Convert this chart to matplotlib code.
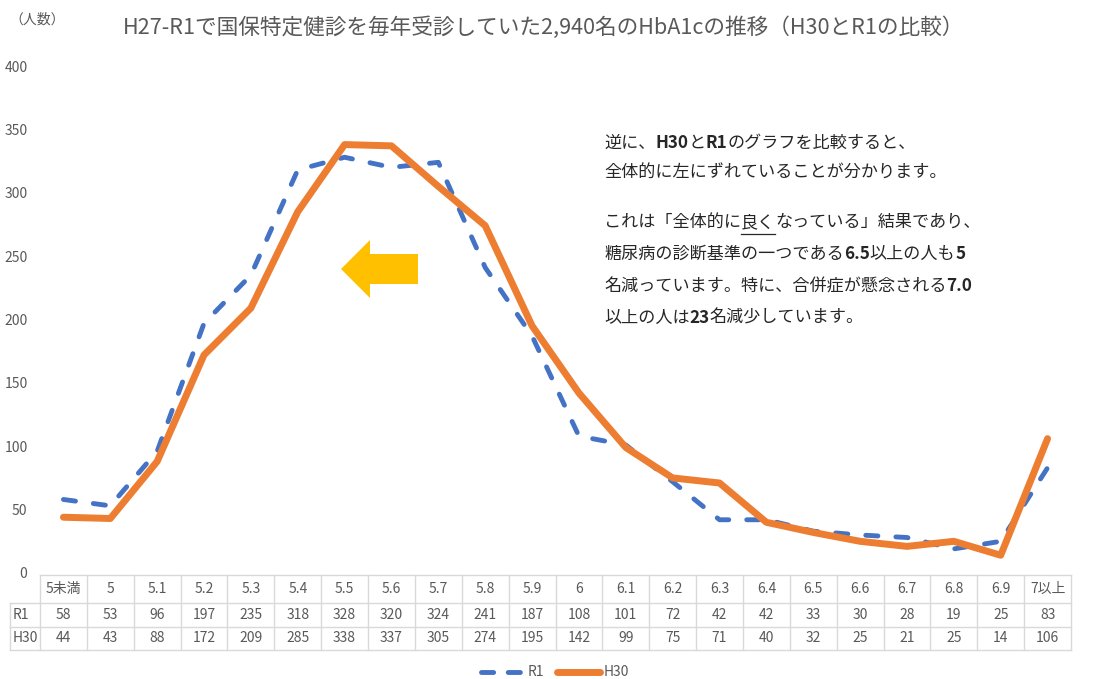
import matplotlib
matplotlib.use("Agg")
import matplotlib.pyplot as plt
from matplotlib.lines import Line2D
from matplotlib.patches import Polygon
from matplotlib.transforms import blended_transform_factory

plt.rcParams['font.family'] = ['Noto Sans CJK JP', 'DejaVu Sans']

# HbA1c categories and number of people in each year
categories = ['5未満', '5', '5.1', '5.2', '5.3', '5.4', '5.5', '5.6', '5.7', '5.8', '5.9',
              '6', '6.1', '6.2', '6.3', '6.4', '6.5', '6.6', '6.7', '6.8', '6.9', '7以上']
r1 = [58, 53, 96, 197, 235, 318, 328, 320, 324, 241, 187, 108, 101, 72, 42, 42, 33, 30, 28, 19, 25, 83]
h30 = [44, 43, 88, 172, 209, 285, 338, 337, 305, 274, 195, 142, 99, 75, 71, 40, 32, 25, 21, 25, 14, 106]
y_ticks = [0, 50, 100, 150, 200, 250, 300, 350, 400]

title = 'H27-R1で国保特定健診を毎年受診していた2,940名のHbA1cの推移（H30とR1の比較）'
y_unit = '（人数）'

W, H = 1101, 679
fig = plt.figure(figsize=(W / 100, H / 100), dpi=100)
fig.patch.set_facecolor('white')

GRAY = '#595959'
GRID = '#D9D9D9'
BLUE = '#4472C4'
ORANGE = '#ED7D31'


def fx(px):
    return px / W


def fy(py):
    return 1 - py / H


ax_l, ax_r, ax_t, ax_b = 40, 1071, 66, 573
ax = fig.add_axes([fx(ax_l), fy(ax_b), fx(ax_r - ax_l), fy(ax_t) - fy(ax_b)])
n = len(categories)
x = list(range(n))
ax.set_xlim(-0.5, n - 0.5)
ax.set_ylim(0, 400)
for s in ax.spines.values():
    s.set_visible(False)
ax.set_xticks([])
ax.set_yticks(y_ticks)
ax.tick_params(axis='y', length=0, pad=9, labelsize=10, labelcolor=GRAY)

ax.plot(x, r1, color=BLUE, lw=3.5, linestyle=(0, (2.5, 3.7)),
        dash_capstyle='round', solid_joinstyle='round', zorder=3, clip_on=False)
ax.plot(x, h30, color=ORANGE, lw=5, solid_capstyle='round',
        solid_joinstyle='round', zorder=4, clip_on=False)

# data table under the plot
bt = blended_transform_factory(ax.transData, fig.transFigure)
row_top, row1, row2, row_bot = 575, 603, 627, 650
hdr_l = 10
line_kw = dict(color=GRID, lw=1.0, clip_on=False)
for i in range(n + 1):
    xi = i - 0.5
    fig.add_artist(Line2D([xi, xi], [fy(row_top), fy(row_bot)], transform=bt, **line_kw))
fig.add_artist(Line2D([-0.5, n - 0.5], [fy(row_top)] * 2, transform=bt, **line_kw))
for ry in (row1, row2, row_bot):
    fig.add_artist(Line2D([fx(hdr_l), fx(ax_r)], [fy(ry)] * 2, transform=fig.transFigure, **line_kw))
fig.add_artist(Line2D([fx(hdr_l)] * 2, [fy(row1), fy(row_bot)], transform=fig.transFigure, **line_kw))

txt_kw = dict(fontsize=10, color=GRAY, ha='center', va='center')
for i, c in enumerate(categories):
    fig.text(i, fy((row_top + row1) / 2), c, transform=bt, **txt_kw)
    fig.text(i, fy((row1 + row2) / 2), str(r1[i]), transform=bt, **txt_kw)
    fig.text(i, fy((row2 + row_bot) / 2), str(h30[i]), transform=bt, **txt_kw)
fig.text(fx(hdr_l + 3), fy((row1 + row2) / 2), 'R1', fontsize=10, color=GRAY, ha='left', va='center')
fig.text(fx(hdr_l + 3), fy((row2 + row_bot) / 2), 'H30', fontsize=10, color=GRAY, ha='left', va='center')

# legend
leg_y = fy(672)
fig.add_artist(Line2D([fx(481), fx(524)], [leg_y] * 2, transform=fig.transFigure, color=BLUE,
                      lw=3.5, linestyle=(0, (2.5, 3.0)), dash_capstyle='round'))
fig.text(fx(528), leg_y, 'R1', fontsize=10, color=GRAY, ha='left', va='center')
fig.add_artist(Line2D([fx(557), fx(600)], [leg_y] * 2, transform=fig.transFigure, color=ORANGE,
                      lw=5, solid_capstyle='round'))
fig.text(fx(604), leg_y, 'H30', fontsize=10, color=GRAY, ha='left', va='center')

# titles
fig.text(fx(544), fy(28), title, fontsize=15.6, color=GRAY, ha='center', va='center')
fig.text(fx(9), fy(20), y_unit, fontsize=10, color=GRAY, ha='left', va='center')

# left-pointing arrow
arrow_px = [(341, 269), (370, 240), (370, 254), (418, 254), (418, 284), (370, 284), (370, 298)]
fig.add_artist(Polygon([(fx(px), fy(py)) for px, py in arrow_px], closed=True,
                       transform=fig.transFigure, facecolor='#FFC000', edgecolor='none'))

# commentary with mixed weights and an underline
lines = [
    [('逆に、', 'normal', False), ('H30', 'bold', False), ('と', 'normal', False),
     ('R1', 'bold', False), ('のグラフを比較すると、', 'normal', False)],
    [('全体的に左にずれていることが分かります。', 'normal', False)],
    [('これは「全体的に', 'normal', False), ('良く', 'normal', True),
     ('なっている」結果であり、', 'normal', False)],
    [('糖尿病の診断基準の一つである', 'normal', False), ('6.5', 'bold', False),
     ('以上の人も', 'normal', False), ('5', 'bold', False)],
    [('名減っています。特に、合併症が懸念される', 'normal', False), ('7.0', 'bold', False)],
    [('以上の人は', 'normal', False), ('23', 'bold', False), ('名減少しています。', 'normal', False)],
]
line_ys = [143, 173, 222, 254, 286, 318]
fig.canvas.draw()
renderer = fig.canvas.get_renderer()
for segs, ly in zip(lines, line_ys):
    cur = 604
    for text, weight, underline in segs:
        t = fig.text(fx(cur), fy(ly), text, fontsize=12.3, color='#262626',
                     fontweight=weight, ha='left', va='center')
        bb = t.get_window_extent(renderer=renderer)
        if underline:
            fig.add_artist(Line2D([fx(cur), fx(cur + bb.width)], [fy(ly + 12)] * 2,
                                  transform=fig.transFigure, color='#262626', lw=0.9))
        cur += bb.width

fig.savefig('out.png', dpi=100, facecolor='white')
